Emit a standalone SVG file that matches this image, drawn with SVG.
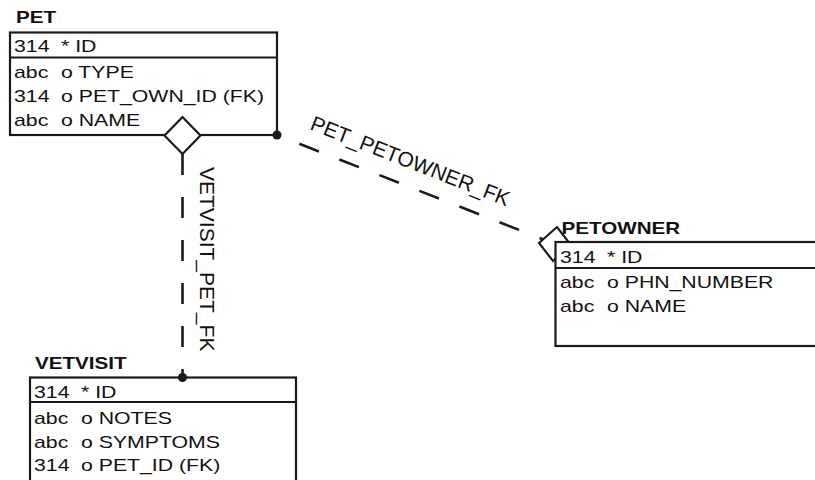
<svg xmlns="http://www.w3.org/2000/svg" width="815" height="480" viewBox="0 0 815 480">
<style>
.box{fill:#fff;stroke:#1a1a1a;stroke-width:2.2}
.sep{stroke:#1a1a1a;stroke-width:2}
.t{font-family:"Liberation Sans",Arial,sans-serif;font-weight:bold;font-size:16.5px;fill:#111}
.r{font-family:"Liberation Sans",Arial,sans-serif;font-size:17px;fill:#111}
.lbl{font-family:"Liberation Sans",Arial,sans-serif;font-size:21px;fill:#111}
.dash{fill:none;stroke:#1a1a1a;stroke-width:2.6;stroke-dasharray:21 22}
.dia{fill:#fff;stroke:#1a1a1a;stroke-width:2.2}
.dot{fill:#1a1a1a}
</style>
<rect width="815" height="480" fill="#fff"/>
<g id="PET">
<text class="t" transform="matrix(1.25,0,0,1,16,23)">PET</text>
<rect class="box" x="10" y="32.5" width="267" height="102.5"/>
<line class="sep" x1="10" y1="57.5" x2="277" y2="57.5"/>
<text class="r" transform="matrix(1.25,0,0,1,14,51.5)">314</text>
<text class="r" transform="matrix(1.25,0,0,1,61,51.5)">* ID</text>
<text class="r" transform="matrix(1.25,0,0,1,14,78)">abc</text>
<text class="r" transform="matrix(1.25,0,0,1,61,78)">o TYPE</text>
<text class="r" transform="matrix(1.25,0,0,1,14,102)">314</text>
<text class="r" transform="matrix(1.25,0,0,1,61,102)">o PET_OWN_ID (FK)</text>
<text class="r" transform="matrix(1.25,0,0,1,14,126)">abc</text>
<text class="r" transform="matrix(1.25,0,0,1,61,126)">o NAME</text>
</g>
<g id="VETVISIT">
<text class="t" transform="matrix(1.25,0,0,1,35,368.5)">VETVISIT</text>
<rect class="box" x="30" y="377.5" width="266" height="130"/>
<line class="sep" x1="30" y1="402" x2="296" y2="402"/>
<text class="r" transform="matrix(1.25,0,0,1,34,397.5)">314</text>
<text class="r" transform="matrix(1.25,0,0,1,81,397.5)">* ID</text>
<text class="r" transform="matrix(1.25,0,0,1,34,423.5)">abc</text>
<text class="r" transform="matrix(1.25,0,0,1,81,423.5)">o NOTES</text>
<text class="r" transform="matrix(1.25,0,0,1,34,447.5)">abc</text>
<text class="r" transform="matrix(1.25,0,0,1,81,447.5)">o SYMPTOMS</text>
<text class="r" transform="matrix(1.25,0,0,1,34,471)">314</text>
<text class="r" transform="matrix(1.25,0,0,1,81,471)">o PET_ID (FK)</text>
</g>
<g id="connectors">
<g id="PET_PETOWNER_FK">
<line class="dash" x1="277" y1="135" x2="555" y2="244" style="stroke-dashoffset:19"/>
<polygon class="dia" points="539,243 557,227 571,245 553,261"/>
<circle class="dot" cx="277" cy="135" r="4.5"/>
<text class="lbl" transform="translate(309,129) rotate(21.4)">PET_PETOWNER_FK</text>
</g>
<g id="VETVISIT_PET_FK">
<line class="dash" x1="182.5" y1="154" x2="182.5" y2="377.5"/>
<polygon class="dia" points="182.5,117 200.5,135.5 182.5,154 164.5,135.5"/>
<circle class="dot" cx="182.5" cy="377.5" r="4.5"/>
<text class="lbl" transform="translate(199.5,167) rotate(90)">VETVISIT_PET_FK</text>
</g>
</g>
<g id="PETOWNER">
<text class="t" transform="matrix(1.25,0,0,1,561.5,234)">PETOWNER</text>
<rect class="box" x="555.5" y="242" width="300" height="104"/>
<line class="sep" x1="555.5" y1="268" x2="815" y2="268"/>
<text class="r" transform="matrix(1.25,0,0,1,560,262.5)">314</text>
<text class="r" transform="matrix(1.25,0,0,1,607,262.5)">* ID</text>
<text class="r" transform="matrix(1.25,0,0,1,560,288)">abc</text>
<text class="r" transform="matrix(1.25,0,0,1,607,288)">o PHN_NUMBER</text>
<text class="r" transform="matrix(1.25,0,0,1,560,312)">abc</text>
<text class="r" transform="matrix(1.25,0,0,1,607,312)">o NAME</text>
</g>
</svg>
